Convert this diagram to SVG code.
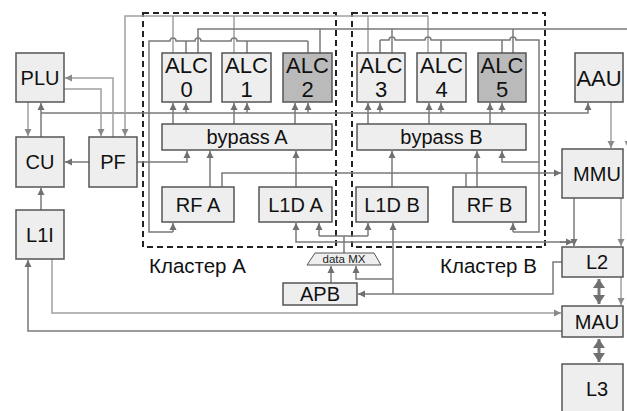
<svg xmlns="http://www.w3.org/2000/svg" width="627" height="411" viewBox="0 0 627 411">
<defs>
<marker id="ah" markerUnits="userSpaceOnUse" markerWidth="8" markerHeight="8" refX="7" refY="4" orient="auto"><path d="M0,0.5 L7,4 L0,7.5 z" fill="#707070"/></marker>
<marker id="ahl" markerUnits="userSpaceOnUse" markerWidth="8" markerHeight="8" refX="7" refY="4" orient="auto"><path d="M0,0.5 L7,4 L0,7.5 z" fill="#8a8a8a"/></marker>
<marker id="big" markerUnits="userSpaceOnUse" markerWidth="10" markerHeight="12" refX="9" refY="6" orient="auto-start-reverse"><path d="M0,0 L9,6 L0,12 z" fill="#707070"/></marker>
</defs>
<style>
.box{fill:#eeeeee;stroke:#555;stroke-width:1.5}
.dark{fill:#bababa;stroke:#555;stroke-width:1.5}
.cl{fill:none;stroke:#222;stroke-width:2;stroke-dasharray:6 4}
.t{font-family:"Liberation Sans",Arial,sans-serif;font-size:20px;fill:#111;text-anchor:middle}
.b{font-size:22px}
.s{font-family:"Liberation Sans",Arial,sans-serif;font-size:11.5px;fill:#222;text-anchor:middle}
.c{font-family:"Liberation Sans",Arial,sans-serif;font-size:20.5px;fill:#111}
.w{fill:none;stroke:#7a7a7a;stroke-width:1.5}
.l{fill:none;stroke:#a0a0a0;stroke-width:1.5}
.a{marker-end:url(#ah)}
.al{marker-end:url(#ahl)}
.d{fill:none;stroke:#7a7a7a;stroke-width:3;marker-start:url(#big);marker-end:url(#big)}
</style>

<g id="clusters">
<rect class="cl" x="143" y="13" width="193" height="234"/>
<rect class="cl" x="352" y="13" width="193" height="234"/>
<text class="c" x="149" y="273">Кластер A</text>
<text class="c" x="440" y="273">Кластер B</text>
</g>

<g id="connectors">
<path class="w a" d="M41,137 V103"/>
<path class="w a" d="M41,113 H588 V103"/>
<path class="w a" d="M186,113 V103"/>
<path class="w a" d="M247,113 V103"/>
<path class="w a" d="M308,113 V103"/>
<path class="w a" d="M380,113 V103"/>
<path class="w a" d="M441,113 V103"/>
<path class="w a" d="M502,113 V103"/>
<path class="l al" d="M28,102 V136"/>
<path class="l al" d="M113,137 V78 H65"/>
<path class="l al" d="M64,89 H101 V136"/>
<path class="l al" d="M428,53 V16 H125 V136"/>
<path class="l" d="M173,53 V16 M234,53 V16 M368,53 V16"/>
<path class="w a" d="M89,162 H65"/>
<path class="w a" d="M41,210 V188"/>
<path class="w a" d="M137,162 H187 V151"/>
<path class="w" d="M186,53 V41 M247,53 V41 M308,53 V41"/>
<path class="w" d="M308,41 H237 A3,3 0 0 0 231,41 H201 A3,3 0 0 0 195,41 H176 A3,3 0 0 0 170,41 H149 V232 H173"/>
<path class="w a" d="M173,232 V223"/>
<path class="w" d="M380,53 V40 M441,53 V40 M502,53 V40"/>
<path class="w" d="M380,40 H389 A3,3 0 0 1 395,40 H425 A3,3 0 0 1 431,40 H510 A3,3 0 0 1 516,40 H539 V232 H513"/>
<path class="w a" d="M513,232 V223"/>
<path class="w a" d="M539,162 H502 V151"/>
<path class="w" d="M198,53 V29 H627 M320,53 V29 M392,53 V29 M513,53 V29"/>
<path class="l al" d="M628,29 V148"/>
<path class="w a" d="M173,124 V103"/>
<path class="w a" d="M234,124 V103"/>
<path class="w a" d="M295,124 V103"/>
<path class="w a" d="M368,124 V103"/>
<path class="w a" d="M429,124 V103"/>
<path class="w a" d="M490,124 V103"/>
<path class="w a" d="M210,187 V151"/>
<path class="w a" d="M296,187 V151"/>
<path class="w a" d="M392,187 V151"/>
<path class="w a" d="M477,187 V151"/>
<path class="w a" d="M222,187 V173 H561"/>
<path class="w" d="M466,187 V173"/>
<path class="l al" d="M611,102 V148"/>
<path class="w a" d="M574,198 V246"/>
<path class="l al" d="M621,198 V246"/>
<path class="l al" d="M621,277 V305"/>
<path class="d" d="M599,279 V304"/>
<path class="d" d="M599,339 V362"/>
<path class="w a" d="M562,262 H553 V294 H358"/>
<path class="w a" d="M393,294 V223"/>
<path class="w a" d="M393,279 H356 V266"/>
<path class="w a" d="M331,283 V266"/>
<path class="w" d="M344,253 V236 M319,236 H368"/>
<path class="w a" d="M319,236 V223"/>
<path class="w a" d="M368,236 V223"/>
<path class="w a" d="M574,242 H296 V223"/>
<path class="w a" d="M560,242 H573"/>
<path class="w a" d="M562,331 H28 V260"/>
<path class="l al" d="M52,259 V313 H561"/>
</g>

<g id="PLU"><rect class="box" x="16" y="53" width="48" height="49"/><text class="t" x="40" y="85">PLU</text></g>
<g id="CU"><rect class="box" x="16" y="137" width="48" height="50"/><text class="t" x="40" y="169">CU</text></g>
<g id="L1I"><rect class="box" x="16" y="210" width="48" height="49"/><text class="t" x="40" y="242">L1I</text></g>
<g id="PF"><rect class="box" x="89" y="137" width="48" height="50"/><text class="t" x="113" y="169">PF</text></g>

<g id="ALC0"><rect class="box" x="162" y="53" width="49" height="49"/><text class="t b" x="186.5" y="73">ALC</text><text class="t b" x="186.5" y="97">0</text></g>
<g id="ALC1"><rect class="box" x="222" y="53" width="49" height="49"/><text class="t b" x="246.5" y="73">ALC</text><text class="t b" x="246.5" y="97">1</text></g>
<g id="ALC2"><rect class="dark" x="283" y="53" width="49" height="49"/><text class="t b" x="307.5" y="73">ALC</text><text class="t b" x="307.5" y="97">2</text></g>
<g id="ALC3"><rect class="box" x="357" y="53" width="48" height="49"/><text class="t b" x="381" y="73">ALC</text><text class="t b" x="381" y="97">3</text></g>
<g id="ALC4"><rect class="box" x="417" y="53" width="49" height="49"/><text class="t b" x="441.5" y="73">ALC</text><text class="t b" x="441.5" y="97">4</text></g>
<g id="ALC5"><rect class="dark" x="478" y="53" width="48" height="49"/><text class="t b" x="502" y="73">ALC</text><text class="t b" x="502" y="97">5</text></g>
<g id="AAU"><rect class="box" x="575" y="53" width="48" height="49"/><text class="t b" x="599" y="86">AAU</text></g>

<g id="bypassA"><rect class="box" x="162" y="124" width="170" height="26"/><text class="t" x="247" y="144">bypass A</text></g>
<g id="bypassB"><rect class="box" x="357" y="124" width="169" height="26"/><text class="t" x="441.5" y="144">bypass B</text></g>

<g id="RFA"><rect class="box" x="162" y="187" width="72" height="35"/><text class="t" x="198" y="212">RF A</text></g>
<g id="L1DA"><rect class="box" x="259" y="187" width="73" height="35"/><text class="t" x="295.5" y="212">L1D A</text></g>
<g id="L1DB"><rect class="box" x="356" y="187" width="72" height="35"/><text class="t" x="392" y="212">L1D B</text></g>
<g id="RFB"><rect class="box" x="453" y="187" width="73" height="35"/><text class="t" x="489.5" y="212">RF B</text></g>

<g id="MMU"><rect class="box" x="562" y="149" width="61" height="49"/><text class="t" x="597" y="181">MMU</text></g>
<g id="L2"><rect class="box" x="562" y="247" width="61" height="30"/><text class="t" x="597" y="269">L2</text></g>
<g id="MAU"><rect class="box" x="562" y="306" width="61" height="31"/><text class="t" x="597" y="329">MAU</text></g>
<g id="L3"><rect class="box" x="562" y="364" width="61" height="52"/><text class="t" x="597" y="396">L3</text></g>

<g id="APB"><rect class="box" x="283" y="283" width="74" height="22"/><text class="t" x="320" y="301">APB</text></g>
<g id="dataMX"><path class="box" d="M315,253 H374 L381,265 H307 Z" style="stroke-width:1"/><text class="s" x="344" y="263">data MX</text></g>
</svg>
